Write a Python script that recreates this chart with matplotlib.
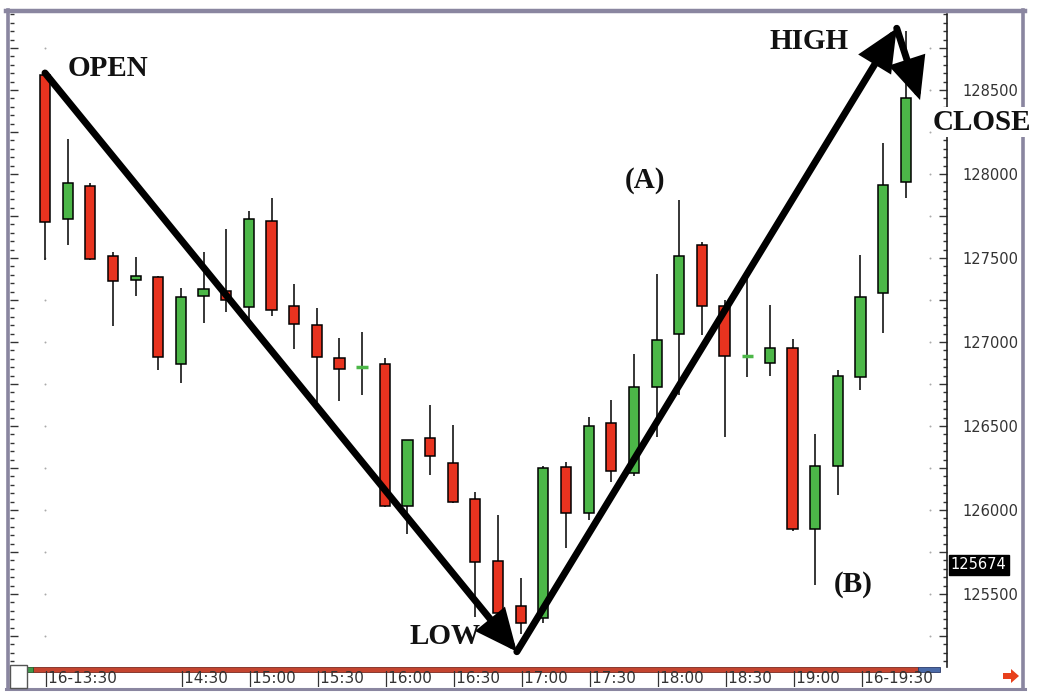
import matplotlib
matplotlib.use("Agg")
import matplotlib.pyplot as plt
from matplotlib.lines import Line2D
from matplotlib.patches import Rectangle, Polygon
from matplotlib.ticker import MultipleLocator, FuncFormatter
import matplotlib.transforms as mtransforms

# ---------------- data (10-minute candles, 13:30 .. 19:50) ----------------
opens = [128589, 127732, 127929, 127512, 127368, 127389, 126869, 127274, 127304, 127210,
         127722, 127214, 127099, 126903, 126850, 126867, 126025, 126427, 126278, 126064,
         125697, 125429, 125355, 126254, 125984, 126516, 126218, 126734, 127048, 127577,
         127214, 126915, 126874, 126966, 125887, 126265, 126789, 127290, 127954]
highs = [128601, 128208, 127947, 127536, 127506, 127395, 127323, 127534, 127671, 127782,
         127855, 127345, 127204, 127026, 127062, 126903, 126417, 126625, 126506, 126109,
         125973, 125594, 126262, 126284, 126552, 126655, 126929, 127403, 127845, 127597,
         127250, 127373, 127220, 127016, 126452, 126833, 127518, 128187, 128851]
lows = [127488, 127577, 127488, 127097, 127276, 126833, 126758, 127111, 127177, 127131,
        127155, 126957, 126645, 126651, 126685, 126020, 125857, 126208, 126042, 125365,
        125340, 125260, 125330, 125772, 125940, 126169, 126204, 126437, 126685, 127042,
        126437, 126790, 126800, 125878, 125555, 126089, 126714, 127052, 127855]
closes = [127714, 127946, 127494, 127363, 127390, 126913, 127270, 127314, 127250, 127730,
          127190, 127107, 126913, 126838, 126850, 126025, 126417, 126322, 126050, 125692,
          125385, 125326, 126248, 125981, 126502, 126232, 126730, 127012, 127512, 127214,
          126917, 126915, 126966, 125885, 126265, 126798, 127268, 127935, 128450]

time_labels = ["16-13:30", "14:30", "15:00", "15:30", "16:00", "16:30",
               "17:00", "17:30", "18:00", "18:30", "19:00", "16-19:30"]
time_label_idx = [0, 6, 9, 12, 15, 18, 21, 24, 27, 30, 33, 36]

last_price = 125674

# path of the annotation arrows (candle index, price)
open_pt = (0.0, 128601)
low_pt = (20.83, 125157)
high_pt = (37.6, 128867)
close_pt = (38.63, 128440)

# ---------------- figure ----------------
W, H = 1042, 694
fig = plt.figure(figsize=(W / 100, H / 100), dpi=100)
fig.patch.set_facecolor("white")


def fx(x):
    return x / W


def fy(y):
    return 1 - y / H


ax = fig.add_axes([fx(10), fy(667), fx(947) - fx(10), fy(14) - fy(667)])
ax.set_xlim(-1.545, 39.82)
ax.set_ylim(125066, 128952)

RED = "#e8331f"
GREEN = "#4cb748"

n = len(opens)
xs = list(range(n))

# wicks
ax.vlines(xs, lows, highs, color="black", linewidth=1.1, zorder=2)

# bodies
body_x, body_bot, body_h, body_c = [], [], [], []
doji_x, doji_y = [], []
for i in range(n):
    o, c = opens[i], closes[i]
    if o == c:
        doji_x.append(i)
        doji_y.append(o)
    else:
        body_x.append(i)
        body_bot.append(min(o, c))
        body_h.append(abs(c - o))
        body_c.append(GREEN if c > o else RED)
ax.bar(body_x, body_h, bottom=body_bot, width=0.45, color=body_c,
       edgecolor="black", linewidth=1.1, zorder=3)
for x, y in zip(doji_x, doji_y):
    ax.hlines(y, x - 0.25, x + 0.25, color=GREEN, linewidth=2.5, zorder=4)

# faint dotted grid columns
grid_levels = [v for v in range(125250, 129000, 250)]
ax.scatter([0] * len(grid_levels), grid_levels, s=2, color="#aaaaaa", zorder=1, linewidths=0)
ax.scatter([39.07] * len(grid_levels), grid_levels, s=2, color="#aaaaaa", zorder=1, linewidths=0)

# arrows
aprops = dict(arrowstyle="-|>,head_length=1.1,head_width=0.5", color="black",
              lw=5, mutation_scale=20, shrinkA=0, shrinkB=0, joinstyle="miter")
ax.annotate("", xy=low_pt, xytext=open_pt, arrowprops=aprops, zorder=6)
ax.annotate("", xy=high_pt, xytext=low_pt, arrowprops=aprops, zorder=6)
ax.annotate("", xy=close_pt, xytext=high_pt, arrowprops=aprops, zorder=6)

lbl = dict(fontfamily="Liberation Serif", fontweight="bold", fontsize=21,
           color="#111111", va="center", ha="left", zorder=7)
ax.text(1.02, 128625, "OPEN", **lbl)
ax.text(32.0, 128786, "HIGH", **lbl)
ax.text(16.1, 125250, "LOW", **lbl)
ax.text(25.6, 127964, "(A)", **lbl)
ax.text(34.8, 125554, "(B)", **lbl)

# y axis
ax.yaxis.set_major_locator(MultipleLocator(250))
ax.yaxis.set_minor_locator(MultipleLocator(50))
ax.yaxis.set_major_formatter(FuncFormatter(lambda v, p: f"{int(round(v))}" if round(v) % 500 == 0 else ""))
ax.tick_params(axis="y", which="both", direction="in", left=True, right=True,
               labelleft=False, labelright=True, color="#333333", width=1)
ax.tick_params(axis="y", which="major", length=6, pad=11, labelsize=10.5, labelcolor="#333333")
ax.tick_params(axis="y", which="minor", length=3)
for t in ax.get_yticklabels():
    t.set_fontfamily("DejaVu Sans")

# x axis: custom labels
ax.set_xticks([])
trans = mtransforms.blended_transform_factory(ax.transData, ax.transAxes)
for idx, lab in zip(time_label_idx, time_labels):
    ax.text(idx - 0.08, -0.0185, "|" + lab, transform=trans, ha="left", va="center",
            fontsize=11, fontfamily="DejaVu Sans", color="#333333", clip_on=False)

# spines
for s in ["left", "top", "bottom"]:
    ax.spines[s].set_visible(False)
ax.spines["right"].set_color("#222222")
ax.spines["right"].set_linewidth(1.2)

# bottom bar
hbar = 5 / 653
ax.add_patch(Rectangle(((33 - 10) / 937, -hbar), (918 - 33) / 937, hbar, transform=ax.transAxes,
                       facecolor="#c4442f", edgecolor="#7a2a20", linewidth=0.6, clip_on=False))
ax.add_patch(Rectangle(((26 - 10) / 937, -hbar), 7 / 937, hbar, transform=ax.transAxes,
                       facecolor="#3f9a4a", edgecolor="#2a5a2a", linewidth=0.6, clip_on=False))
ax.add_patch(Rectangle(((918 - 10) / 937, -hbar), 22 / 937, hbar, transform=ax.transAxes,
                       facecolor="#4a6aa8", edgecolor="#2a3a6a", linewidth=0.6, clip_on=False))

# last price tag
ytrans = mtransforms.blended_transform_factory(ax.transAxes, ax.transData)
ax.text(1.004, last_price, f"{last_price}", transform=ytrans, ha="left", va="center",
        fontsize=10.5, fontfamily="DejaVu Sans", color="white", clip_on=False, zorder=8,
        bbox=dict(boxstyle="square,pad=0.15", facecolor="black", edgecolor="black"))

# outer frame
fcol = "#8a86a0"
fig.add_artist(Line2D([fx(6), fx(1025)], [fy(11), fy(11)], transform=fig.transFigure, color=fcol, lw=3.2, zorder=2))
fig.add_artist(Line2D([fx(8), fx(8)], [fy(10), fy(689)], transform=fig.transFigure, color=fcol, lw=2.6, zorder=2))
fig.add_artist(Line2D([fx(1023), fx(1023)], [fy(10), fy(689)], transform=fig.transFigure, color=fcol, lw=2.6, zorder=2))
fig.add_artist(Line2D([fx(6), fx(1025)], [fy(689), fy(689)], transform=fig.transFigure, color=fcol, lw=2.2, zorder=2))

# small white box bottom-left
fig.add_artist(Rectangle((fx(10), fy(688)), fx(27) - fx(10), fy(665) - fy(688), transform=fig.transFigure,
                         facecolor="white", edgecolor="#555555", linewidth=1, zorder=3))

# red arrow bottom-right
pts = [(1003, 673), (1011, 673), (1011, 669), (1019, 676), (1011, 683), (1011, 679), (1003, 679)]
fig.add_artist(Polygon([(fx(x), fy(y)) for x, y in pts], closed=True, transform=fig.transFigure,
                       facecolor="#e8401c", edgecolor="none", zorder=3))

# CLOSE label (over the frame)
fig.text(fx(933), fy(122), "CLOSE", fontfamily="Liberation Serif", fontweight="bold", fontsize=21,
         color="#111111", va="center", ha="left", zorder=10,
         bbox=dict(boxstyle="square,pad=0.05", facecolor="white", edgecolor="none"))

fig.savefig("out.png", dpi=100, facecolor="white")
